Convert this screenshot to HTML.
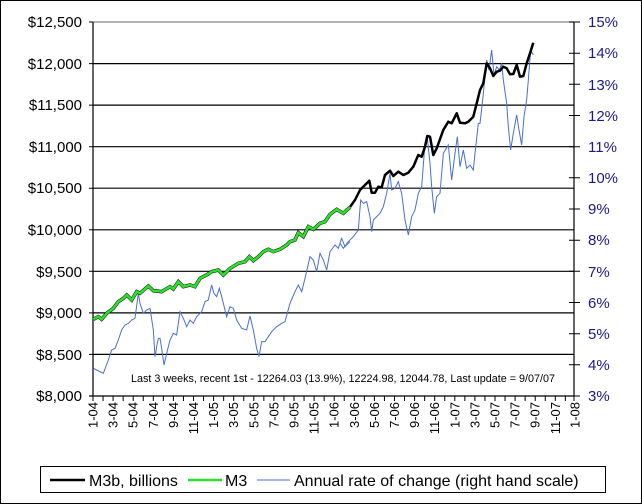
<!DOCTYPE html>
<html><head><style>
body{margin:0;background:#fff}
svg{display:block;font-family:"Liberation Sans",sans-serif}
</style></head><body>
<svg width="642" height="504" viewBox="0 0 642 504" xmlns="http://www.w3.org/2000/svg">
<rect x="0.5" y="0.5" width="641" height="503" fill="#fff" stroke="#000"/>
<g stroke="#000" stroke-width="1.2">
<line x1="93" y1="22" x2="574" y2="22" stroke="#888"/>
<line x1="93" y1="63.6" x2="574" y2="63.6"/>
<line x1="93" y1="105.1" x2="574" y2="105.1"/>
<line x1="93" y1="146.7" x2="574" y2="146.7"/>
<line x1="93" y1="188.2" x2="574" y2="188.2"/>
<line x1="93" y1="229.8" x2="574" y2="229.8"/>
<line x1="93" y1="271.3" x2="574" y2="271.3"/>
<line x1="93" y1="312.9" x2="574" y2="312.9"/>
<line x1="93" y1="354.4" x2="574" y2="354.4"/>
<line x1="89" y1="396" x2="574" y2="396"/>
<line x1="93" y1="22" x2="93" y2="396"/>
<line x1="574" y1="22" x2="574" y2="396"/>
</g>
<g stroke="#000">
<path d="M89 22h4M89 63.6h4M89 105.1h4M89 146.7h4M89 188.2h4M89 229.8h4M89 271.3h4M89 312.9h4M89 354.4h4"/>
<path d="M569 22h11M569 53.2h11M569 84.3h11M569 115.5h11M569 146.7h11M569 177.8h11M569 209h11M569 240.2h11M569 271.3h11M569 302.5h11M569 333.7h11M569 364.8h11M569 396h11"/>
<path d="M93 396v5M103.05 396v5M113.1 396v5M123.15 396v5M133.2 396v5M143.25 396v5M153.3 396v5M163.35 396v5M173.4 396v5M183.45 396v5M193.5 396v5M203.55 396v5M213.6 396v5M223.65 396v5M233.7 396v5M243.75 396v5M253.8 396v5M263.85 396v5M273.9 396v5M283.95 396v5M294 396v5M304.05 396v5M314.1 396v5M324.15 396v5M334.2 396v5M344.25 396v5M354.3 396v5M364.35 396v5M374.4 396v5M384.45 396v5M394.5 396v5M404.55 396v5M414.6 396v5M424.65 396v5M434.7 396v5M444.75 396v5M454.8 396v5M464.85 396v5M474.9 396v5M484.95 396v5M495 396v5M505.05 396v5M515.1 396v5M525.15 396v5M535.2 396v5M545.25 396v5M555.3 396v5M565.35 396v5M574 396v5"/>
</g>
<g font-size="15" text-anchor="end" fill="#000">
<text x="82" y="27">$12,500</text><text x="82" y="69">$12,000</text><text x="82" y="110">$11,500</text><text x="82" y="152">$11,000</text><text x="82" y="193">$10,500</text><text x="82" y="235">$10,000</text><text x="82" y="277">$9,500</text><text x="82" y="318">$9,000</text><text x="82" y="360">$8,500</text><text x="82" y="401">$8,000</text>
</g>
<g font-size="15" fill="#1a1a8c">
<text x="588" y="27">15%</text><text x="588" y="58">14%</text><text x="588" y="90">13%</text><text x="588" y="121">12%</text><text x="588" y="152">11%</text><text x="588" y="183">10%</text><text x="588" y="214">9%</text><text x="588" y="245">8%</text><text x="588" y="277">7%</text><text x="588" y="308">6%</text><text x="588" y="339">5%</text><text x="588" y="370">4%</text><text x="588" y="401">3%</text>
</g>
<g font-size="13" text-anchor="end">
<text transform="translate(97.5,402) rotate(-90)">1-04</text>
<text transform="translate(117.6,402) rotate(-90)">3-04</text>
<text transform="translate(137.7,402) rotate(-90)">5-04</text>
<text transform="translate(157.8,402) rotate(-90)">7-04</text>
<text transform="translate(177.9,402) rotate(-90)">9-04</text>
<text transform="translate(198,402) rotate(-90)">11-04</text>
<text transform="translate(218.1,402) rotate(-90)">1-05</text>
<text transform="translate(238.2,402) rotate(-90)">3-05</text>
<text transform="translate(258.3,402) rotate(-90)">5-05</text>
<text transform="translate(278.4,402) rotate(-90)">7-05</text>
<text transform="translate(298.5,402) rotate(-90)">9-05</text>
<text transform="translate(318.6,402) rotate(-90)">11-05</text>
<text transform="translate(338.7,402) rotate(-90)">1-06</text>
<text transform="translate(358.8,402) rotate(-90)">3-06</text>
<text transform="translate(378.9,402) rotate(-90)">5-06</text>
<text transform="translate(399,402) rotate(-90)">7-06</text>
<text transform="translate(419.1,402) rotate(-90)">9-06</text>
<text transform="translate(439.2,402) rotate(-90)">11-06</text>
<text transform="translate(459.3,402) rotate(-90)">1-07</text>
<text transform="translate(479.4,402) rotate(-90)">3-07</text>
<text transform="translate(499.5,402) rotate(-90)">5-07</text>
<text transform="translate(519.6,402) rotate(-90)">7-07</text>
<text transform="translate(539.7,402) rotate(-90)">9-07</text>
<text transform="translate(559.8,402) rotate(-90)">11-07</text>
<text transform="translate(579.5,402) rotate(-90)">1-08</text>
</g>
<g fill="none" stroke="#4a6fd0" stroke-width="1">
<polyline transform="translate(90,160) scale(0.33333)" vector-effect="non-scaling-stroke" points="10,625 20,630 40,640 55,600 65,570 75,565 85,540 95,510 105,495 115,490 125,480 135,475 145,400 150,430 160,460 170,450 180,445 190,510 195,590 200,560 205,535 210,535 215,565 222,615 230,580 240,540 250,520 260,525 270,455 280,475 290,500 300,480 310,490 320,470 335,455 345,425 355,420 365,375 372,400 380,410 388,385 395,410 410,470 420,440 430,445 440,480 455,505 470,510 480,468 490,510 500,565 507,590 515,545 525,545 535,530 545,515 560,500 575,490 585,485 600,430 615,395 625,375 635,395 645,355 660,290 670,300 680,335 690,280 700,300 710,330 720,275 735,255 745,265 755,235 765,260 775,250 780,245"/>
<polyline transform="translate(340,20) scale(0.33333)" vector-effect="non-scaling-stroke" points="0,670 10,685 25,665 40,650 55,630 62,540 70,550 80,545 90,590 95,635 100,600 110,590 120,580 130,560 140,520 150,460 155,510 165,505 175,485 185,520 195,600 205,645 215,590 225,570 235,520 245,500 255,370 262,355 270,430 275,500 283,580 290,530 300,520 310,400 325,375 335,480 345,400 352,350 360,440 370,390 380,445 390,435 400,450 405,400 415,310 420,310 428,240 440,120 447,150 455,90 462,165 470,140 478,150 485,130 490,180 500,250 505,320 512,390 520,340 530,285 537,330 545,375 552,290 560,240 565,180 572,90 580,105"/>
</g>
<polyline fill="none" stroke="#000" stroke-width="2.5" stroke-linejoin="round" points="350,207 355,200 360,190 365,185 369.3,180.7 371.7,192.7 375,192.7 378.3,186.7 381.7,187.3 385,175 390,170.7 393.3,176 398.3,171.7 403.3,175 408.3,172.7 413.3,166.7 418.3,155 421.7,156.7 425,146.7 427.3,136 430,136.7 433.3,155 436.7,148.3 443.3,130 448.3,121.7 451.7,123.3 456.7,113.3 460,122.7 465,123.3 468.3,121.7 473.3,116.7 476.7,103.3 480,90 483.3,83.3 486.7,63.3 490,68.3 493.3,76 496.7,71.7 500,70.7 503.3,66.7 506.7,68.3 510,74.3 513.3,74 516.7,65 520,76.7 523.3,76 526.7,63.3 530,53.3 533.3,42.7"/>
<polyline transform="translate(90,160) scale(0.33333)" vector-effect="non-scaling-stroke" fill="none" stroke="#000" stroke-width="3.5" points="10,478 25,470 35,478 50,460 70,445 85,425 100,415 110,405 125,420 140,395 150,400 175,378 190,392 215,395 240,380 250,387 265,365 280,380 300,375 315,380 330,355 350,345 365,335 385,330 400,345 420,325 445,310 465,305 478,290 490,302 505,290 520,275 535,268 550,275 570,268 590,255 600,245 615,240 625,218 640,230 655,200 670,208 690,190 705,185 720,163 740,148 760,160 770,150 780,142"/>
<polyline transform="translate(90,160) scale(0.33333)" vector-effect="non-scaling-stroke" fill="none" stroke="#2ee02e" stroke-width="2.6" points="10,478 25,470 35,478 50,460 70,445 85,425 100,415 110,405 125,420 140,395 150,400 175,378 190,392 215,395 240,380 250,387 265,365 280,380 300,375 315,380 330,355 350,345 365,335 385,330 400,345 420,325 445,310 465,305 478,290 490,302 505,290 520,275 535,268 550,275 570,268 590,255 600,245 615,240 625,218 640,230 655,200 670,208 690,190 705,185 720,163 740,148 760,160 770,150 780,142"/>
<text x="131" y="382" font-size="11" textLength="424" lengthAdjust="spacingAndGlyphs">Last 3 weeks, recent 1st - 12264.03 (13.9%), 12224.98, 12044.78, Last update = 9/07/07</text>
<rect x="40.5" y="466.5" width="565" height="26" fill="#fff" stroke="#000"/>
<line x1="50" y1="480" x2="85" y2="480" stroke="#000" stroke-width="2.5"/>
<text x="89" y="486" font-size="16">M3b, billions</text>
<line x1="188" y1="480" x2="222" y2="480" stroke="#2ee02e" stroke-width="2.5"/>
<text x="225" y="486" font-size="16">M3</text>
<line x1="257" y1="480" x2="290" y2="480" stroke="#4a6fd0" stroke-width="1"/>
<text x="294" y="486" font-size="16">Annual rate of change (right hand scale)</text>
</svg>
</body></html>
